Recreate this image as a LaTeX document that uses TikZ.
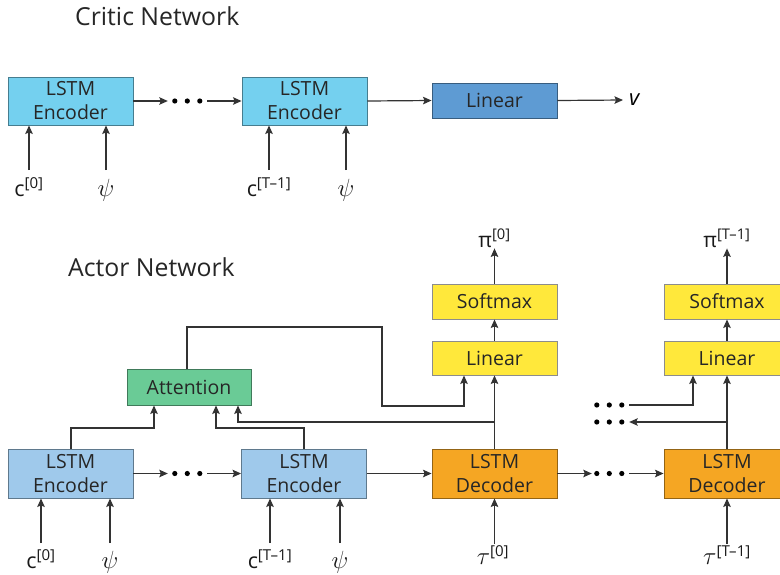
\documentclass[tikz,border=0pt]{standalone}
\usepackage{fontspec}
\setmainfont{Open Sans}
\usetikzlibrary{arrows.meta}
\definecolor{critcyan}{HTML}{74D0EF}
\definecolor{critblue}{HTML}{5E9BD3}
\definecolor{encblue}{HTML}{9FC9EB}
\definecolor{attgreen}{HTML}{6ACB96}
\definecolor{decorange}{HTML}{F5A623}
\definecolor{softyellow}{HTML}{FFE83B}
\definecolor{linegray}{HTML}{333333}
\tikzset{
  block/.style={draw=#1!60!black, line width=0.9pt, inner sep=0pt, align=center,
    font=\fontsize{19.5}{24}\selectfont, text=black!85},
  arr/.style={-{Stealth[length=8.5pt,width=7.5pt,inset=1.5pt]}, line width=1.2pt, draw=linegray},
  inlab/.style={anchor=north, inner sep=0pt, text height=#1, text depth=0pt,
    font=\fontsize{21.5}{24}\selectfont, text=black!90},
  inlab/.default=25pt,
  dotsnode/.style={inner sep=0pt, minimum width=#1, minimum height=8pt},
  title/.style={anchor=base west, inner sep=0pt, font=\fontsize{24.8}{28}\selectfont, text=black!85},
}
\newcommand{\threedots}[2]{%
  \fill[black] (#1.west) ++(#2,0) circle (2.6pt) ++(12.5,0) circle (2.6pt) ++(12.5,0) circle (2.6pt);}
\newcommand{\psisym}{{\fontsize{25}{25}\selectfont$\psi$}}
\newcommand{\tausym}{{\fontsize{23}{23}\selectfont$\tau$}}
\begin{document}
\begin{tikzpicture}[x=1pt,y=-1pt]
\useasboundingbox (0,0) rectangle (780,574);
\clip (0,0) rectangle (780,574);

% ---------------- Critic network ----------------
\node[title] (ctitle) at (75,25) {Critic Network};

\node[block=critcyan, fill=critcyan, minimum width=125pt, minimum height=48pt] (ce1) at (70.5,101) {LSTM\\Encoder};
\node[block=critcyan, fill=critcyan, minimum width=125pt, minimum height=48pt] (ce2) at (304.5,101) {LSTM\\Encoder};
\node[block=critblue, fill=critblue, minimum width=125pt, minimum height=35pt] (clin) at (494.5,100.5) {Linear};
\node[anchor=west, inner sep=0pt, font=\fontsize{22}{24}\selectfont\itshape] (cv) at (629,100) {v};

\node[dotsnode=39pt] (cdots) at (187.5,101) {};
\threedots{cdots}{7}
\draw[arr] (ce1.east) -- (cdots.west);
\draw[arr] (cdots.east) -- (ce2.west);
\draw[arr] (ce2.east) -- (clin.west);
\draw[arr] (clin.east) -- ([xshift=-6pt]cv.west);

\node[inlab=26pt] (cc0) at (29,170) {c\textsuperscript{[0]}};
\node[inlab=26pt] (cp0) at (106,170) {\psisym};
\node[inlab=26pt] (cc1) at (269,170) {c\textsuperscript{[T–1]}};
\node[inlab=26pt] (cp1) at (346,170) {\psisym};
\foreach \l/\b in {cc0/ce1, cp0/ce1, cc1/ce2, cp1/ce2}
  \draw[arr] (\l.north) -- (\l.north |- \b.south);

% ---------------- Actor network ----------------
\node[title] (atitle) at (68,276) {Actor Network};

\node[block=encblue, fill=encblue, minimum width=125pt, minimum height=49pt] (ae1) at (70.5,473.5) {LSTM\\Encoder};
\node[block=encblue, fill=encblue, minimum width=125pt, minimum height=49pt] (ae2) at (304,473.5) {LSTM\\Encoder};
\node[block=decorange, fill=decorange, minimum width=125pt, minimum height=49pt] (ad1) at (494.5,473.5) {LSTM\\Decoder};
\node[block=decorange, fill=decorange, minimum width=126pt, minimum height=49pt] (ad2) at (727,473.5) {LSTM\\Decoder};

\node[block=attgreen, fill=attgreen, minimum width=124pt, minimum height=36pt] (att) at (189,387) {Attention};

\node[block=softyellow, draw=black!45, fill=softyellow, minimum width=125pt, minimum height=34pt] (lin1) at (494.5,358) {Linear};
\node[block=softyellow, draw=black!45, fill=softyellow, minimum width=125pt, minimum height=35pt] (sm1) at (494.5,301.5) {Softmax};
\node[block=softyellow, draw=black!45, fill=softyellow, minimum width=126pt, minimum height=34pt] (lin2) at (727,358) {Linear};
\node[block=softyellow, draw=black!45, fill=softyellow, minimum width=126pt, minimum height=35pt] (sm2) at (727,301.5) {Softmax};

% encoder / decoder chain
\node[dotsnode=39pt] (adots1) at (187.5,473.5) {};
\threedots{adots1}{7}
\node[dotsnode=37pt] (adots2) at (610.5,473.5) {};
\threedots{adots2}{5}
\draw[arr] (ae1.east) -- (adots1.west);
\draw[arr] (adots1.east) -- (ae2.west);
\draw[arr] (ae2.east) -- (ad1.west);
\draw[arr] (ad1.east) -- (adots2.west);
\draw[arr] (adots2.east) -- (ad2.west);

% inputs
\node[inlab=25pt] (ac0) at (41,543) {c\textsuperscript{[0]}};
\node[inlab=25pt] (ap0) at (110,543) {\psisym};
\node[inlab=25pt] (ac1) at (270,543) {c\textsuperscript{[T–1]}};
\node[inlab=25pt] (ap1) at (340,543) {\psisym};
\node[inlab=20pt] (at0) at (493,544) {\tausym\textsuperscript{[0]}};
\node[inlab=20pt] (at1) at (727,544) {\tausym\textsuperscript{[T–1]}};
\foreach \l/\b in {ac0/ae1, ap0/ae1, ac1/ae2, ap1/ae2}
  \draw[arr] (\l.north) -- (\l.north |- \b.south);
\draw[arr] (at0.north -| ad1.south) -- (ad1.south);
\draw[arr] (at1.north -| ad2.south) -- (ad2.south);

% outputs
\node[anchor=base, inner sep=1pt, font=\fontsize{21}{24}\selectfont, text=black!90] (pi0) at (494.5,247) {π\textsuperscript{[0]}};
\node[anchor=base, inner sep=1pt, font=\fontsize{21}{24}\selectfont, text=black!90] (pi1) at (727,247) {π\textsuperscript{[T–1]}};
\draw[arr] (lin1.north) -- (sm1.south);
\draw[arr] (sm1.north) -- (sm1.north |- pi0.south);
\draw[arr] (lin2.north) -- (sm2.south);
\draw[arr] (sm2.north) -- (sm2.north |- pi1.south);

% encoders feed attention
\coordinate (j1) at (71,428);
\coordinate (j2) at (304,428);
\draw[arr] (ae1.north -| j1) -- (j1) -| ([xshift=-35pt]att.south);
\draw[arr] (ae2.north -| j2) -- (j2) -| ([xshift=27pt]att.south);

% decoder output to linear and back to attention
\draw[arr] (ad1.north) -- (lin1.south);
\coordinate (fb1) at (494.5,422);
\draw[arr] (fb1) -| ([xshift=49pt]att.south);

% attention context to linear
\coordinate (ctxA) at (187,327);
\coordinate (ctxB) at (382,406);
\draw[arr] (att.north -| ctxA) -- (ctxA) -| (ctxB) -| ([xshift=-30.5pt]lin1.south);

% second decoder step
\node[dotsnode=37pt] (rdots1) at (610.5,405) {};
\threedots{rdots1}{5}
\node[dotsnode=37pt] (rdots2) at (610.5,422) {};
\threedots{rdots2}{5}
\draw[arr] (rdots1.east) -| ([xshift=-34pt]lin2.south);
\draw[arr] (ad2.north) -- (lin2.south);
\coordinate (fb2) at (727,422);
\draw[arr] (fb2) -- (rdots2.east);
\end{tikzpicture}
\end{document}
